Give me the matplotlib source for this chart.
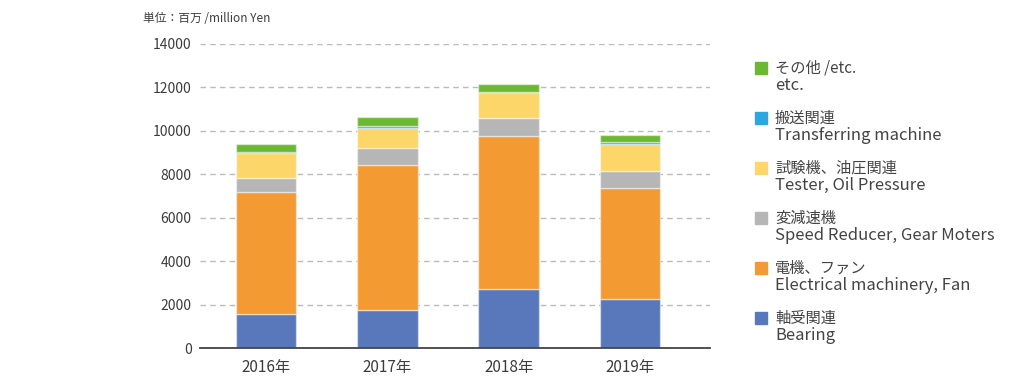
import matplotlib
matplotlib.use("Agg")
import matplotlib.pyplot as plt
import numpy as np
from matplotlib.patches import Rectangle

plt.rcParams['font.family'] = ['Noto Sans CJK JP', 'DejaVu Sans']

# Data (million Yen)
years = ["2016年", "2017年", "2018年", "2019年"]
bearing = [1580, 1770, 2720, 2260]
electrical = [5590, 6640, 7030, 5090]
reducer = [670, 790, 830, 810]
tester = [1140, 950, 1210, 1230]
transfer = [40, 80, 10, 80]
etc = [360, 430, 370, 320]

series = [bearing, electrical, reducer, tester, transfer, etc]
colors = ["#5878BB", "#F39B32", "#B5B6B5", "#FCD668", "#2CA8E0", "#6DB832"]
labels_jp = ["軸受関連", "電機、ファン", "変減速機", "試験機、油圧関連", "搬送関連", "その他 /etc."]
labels_en = ["Bearing", "Electrical machinery, Fan", "Speed Reducer, Gear Moters",
             "Tester, Oil Pressure", "Transferring machine", "etc."]

fig = plt.figure(figsize=(10.2, 3.85), dpi=100)
ax = fig.add_axes([200 / 1020, 1 - 348 / 385, 510 / 1020, 304 / 385])

x = np.arange(len(years))
bottom = np.zeros(len(years))
for vals, c in zip(series, colors):
    ax.bar(x, vals, width=0.5, bottom=bottom, color=c,
           edgecolor=(1, 1, 1, 0.45), linewidth=1.0, zorder=3)
    bottom += np.array(vals)

ax.set_ylim(0, 14000)
ax.set_xlim(-0.545, 3.66)
ax.set_yticks(np.arange(0, 14001, 2000))
ax.set_xticks(x)
ax.set_xticklabels(years)
ax.yaxis.grid(True, color="#BBBBBB", linestyle=(0, (4, 3)), linewidth=1.0, zorder=0)
for s in ["top", "right", "left"]:
    ax.spines[s].set_visible(False)
ax.spines["bottom"].set_color("#444444")
ax.spines["bottom"].set_linewidth(1.3)
ax.spines["bottom"].set_zorder(4)
ax.tick_params(axis="both", length=0, colors="#3c3c3c")
ax.tick_params(axis="y", pad=6, labelsize=10)
ax.tick_params(axis="x", pad=8, labelsize=11)

fig.text(143 / 1020, 1 - 18 / 385, "単位：百万 /million Yen", fontsize=8.5,
         color="#3c3c3c", va="center", ha="left")

# legend, top entry first
for i, k in enumerate(range(len(series) - 1, -1, -1)):
    yj = 68 + 50 * i
    fig.patches.append(Rectangle((755 / 1020, 1 - (yj + 6) / 385), 12 / 1020, 12 / 385,
                                 transform=fig.transFigure, color=colors[k]))
    fig.text(775 / 1020, 1 - yj / 385, labels_jp[k], fontsize=11, color="#444444",
             va="center", ha="left")
    fig.text(775 / 1020, 1 - (yj + 17) / 385, labels_en[k], fontsize=12, color="#444444",
             va="center", ha="left")

fig.savefig("out.png", dpi=100)
